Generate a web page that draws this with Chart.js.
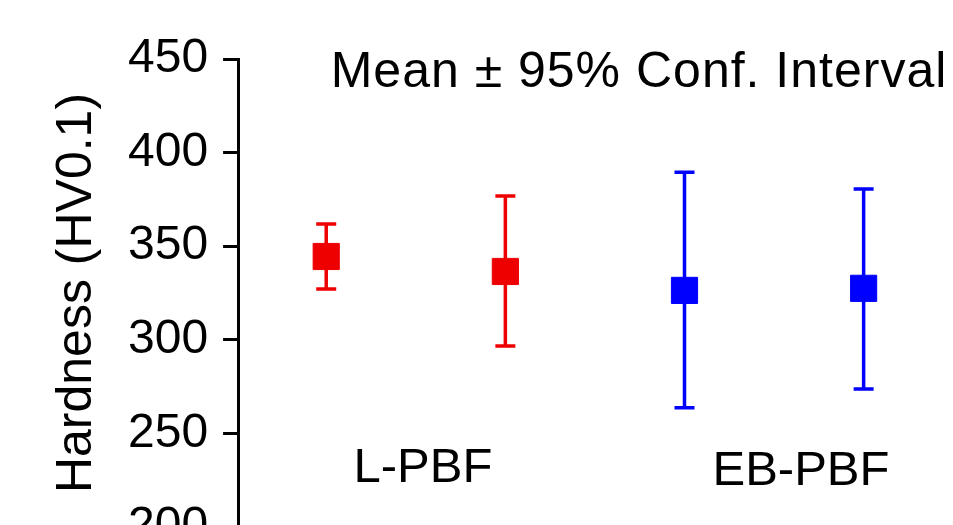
<!DOCTYPE html>
<html>
<head>
<meta charset="utf-8">
<script src="https://cdn.jsdelivr.net/npm/chart.js@4/dist/chart.umd.min.js"></script>
<style>
  html, body { margin: 0; padding: 0; background: #fff; }
  #wrap { width: 953px; height: 525px; overflow: hidden; position: relative; }
  #hvChart { display: block; }
</style>
</head>
<body>
<div id="wrap">
  <canvas id="hvChart" width="953" height="600"></canvas>
</div>
<script>
// Hardness, mean and 95% confidence interval per sample
const groupNames = ["L-PBF", "EB-PBF"];
const sampleGroup = [0, 0, 1, 1];
const sampleX = [1, 2, 3, 4];
const meanHV = [344.5, 336.5, 326.4, 327.5];
const upperCI = [361.9, 376.8, 389.5, 380.6];
const lowerCI = [327.1, 296.7, 263.7, 273.7];

// group label anchors (data units)
const groupLabelX = [1.54, 3.65];
const groupLabelY = [224, 222.5];

const yMin = 200;
const yMax = 450;
const yStep = 25;

const titleText = "Mean \u00b1 95% Conf. Interval";
const yTitle = "Hardness (HV0.1)";

const groupColors = ["rgb(238,0,0)", "rgb(0,0,255)"];
const fontFamily = "'Liberation Sans', Arial, sans-serif";

Chart.defaults.color = "#000";
Chart.defaults.font.family = fontFamily;

const datasets = groupNames.map((name, g) => ({
    label: name,
    data: sampleX
        .map((x, i) => ({ x: x, y: meanHV[i], lo: lowerCI[i], hi: upperCI[i], g: sampleGroup[i] }))
        .filter(p => p.g === g),
    pointStyle: "rect",
    pointRadius: 18.5,
    pointHoverRadius: 18.5,
    pointBorderWidth: 1,
    backgroundColor: groupColors[g],
    borderColor: groupColors[g],
    showLine: false
}));

const errorBars = {
    id: "errorBars",
    beforeDatasetsDraw(chart) {
        const { ctx, scales: { x, y } } = chart;
        ctx.save();
        ctx.lineWidth = 3.5;
        chart.data.datasets.forEach(ds => {
            ctx.strokeStyle = ds.borderColor;
            ds.data.forEach(p => {
                const px = x.getPixelForValue(p.x);
                const top = y.getPixelForValue(p.hi);
                const bot = y.getPixelForValue(p.lo);
                ctx.beginPath();
                ctx.moveTo(px, top);
                ctx.lineTo(px, bot);
                ctx.moveTo(px - 10, top);
                ctx.lineTo(px + 10, top);
                ctx.moveTo(px - 10, bot);
                ctx.lineTo(px + 10, bot);
                ctx.stroke();
            });
        });
        ctx.restore();
    },
    afterDraw(chart) {
        const { ctx, chartArea, scales: { x, y } } = chart;
        ctx.save();

        // minor ticks
        ctx.strokeStyle = "#000";
        ctx.lineWidth = 3;
        y.ticks.forEach(t => {
            if (t.value % 50 === 0) return;
            const py = y.getPixelForValue(t.value);
            ctx.beginPath();
            ctx.moveTo(chartArea.left - 8, py);
            ctx.lineTo(chartArea.left, py);
            ctx.stroke();
        });

        ctx.fillStyle = "#000";
        ctx.textBaseline = "alphabetic";

        // in-plot title
        ctx.font = "50px " + fontFamily;
        ctx.letterSpacing = "1px";
        ctx.textAlign = "left";
        ctx.fillText(titleText, x.getPixelForValue(1.025), y.getPixelForValue(435));
        ctx.letterSpacing = "0px";

        // group labels
        ctx.font = "49px " + fontFamily;
        ctx.textAlign = "center";
        groupNames.forEach((name, g) => {
            ctx.fillText(name, x.getPixelForValue(groupLabelX[g]), y.getPixelForValue(groupLabelY[g]));
        });
        ctx.restore();
    }
};

new Chart(document.getElementById("hvChart").getContext("2d"), {
    type: "scatter",
    data: { datasets },
    plugins: [errorBars],
    options: {
        responsive: false,
        animation: false,
        layout: {
            padding: { left: 0, right: 0, top: 59, bottom: 73 }
        },
        plugins: {
            legend: { display: false },
            tooltip: { enabled: false }
        },
        scales: {
            x: {
                type: "linear",
                min: 0.508,
                max: 4.39,
                display: false
            },
            y: {
                min: yMin,
                max: yMax,
                border: { display: true, color: "#000", width: 3 },
                grid: {
                    drawOnChartArea: false,
                    drawTicks: true,
                    tickLength: 15,
                    tickWidth: 3,
                    tickColor: c => (c.tick && c.tick.value % 50 === 0 ? "#000" : "rgba(0,0,0,0)")
                },
                ticks: {
                    stepSize: yStep,
                    padding: 15,
                    font: { size: 48 },
                    color: "#000",
                    callback: v => (v % 50 === 0 ? String(v) : "")
                },
                title: {
                    display: true,
                    text: yTitle,
                    font: { size: 50 },
                    color: "#000",
                    padding: { top: 47, bottom: 6 }
                }
            }
        }
    }
});
</script>
</body>
</html>
